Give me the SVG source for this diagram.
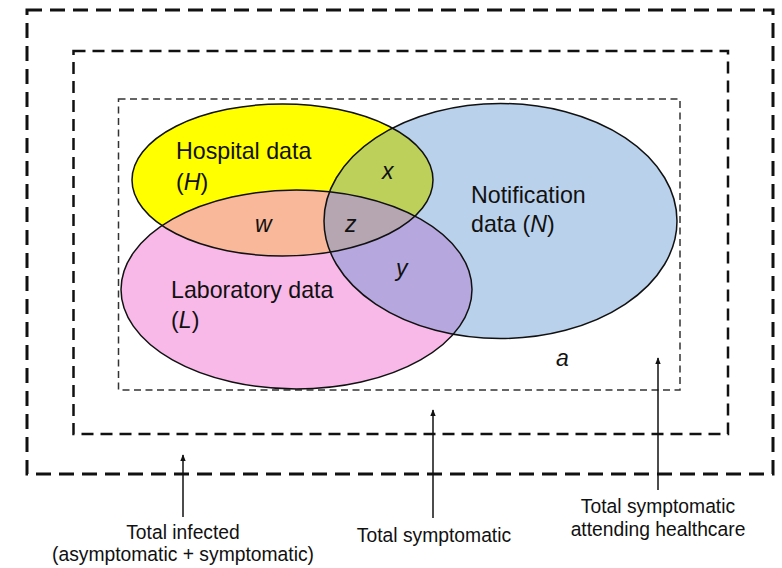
<svg xmlns="http://www.w3.org/2000/svg" width="782" height="568" viewBox="0 0 782 568">
<style>
.lbl{font-family:"Liberation Sans",Arial,sans-serif;fill:#111;font-size:23.2px}
.var{font-family:"Liberation Sans",Arial,sans-serif;fill:#111;font-size:23px;font-style:italic}
.cap{font-family:"Liberation Sans",Arial,sans-serif;fill:#111;font-size:19.3px;text-anchor:middle}
.edge{fill:none;stroke:#111;stroke-width:1.5}
.conn{stroke:#111;stroke-width:1.5;fill:none}
</style>
<defs>
<marker id="ah" viewBox="0 0 10 10" refX="9" refY="5" markerWidth="7" markerHeight="7" orient="auto" markerUnits="userSpaceOnUse">
<path d="M0,1 L10,5 L0,9 z" fill="#111"/>
</marker>
<clipPath id="cH"><ellipse cx="282.5" cy="180" rx="150.5" ry="76"/></clipPath>
<clipPath id="cL"><ellipse cx="296.5" cy="289.5" rx="175.5" ry="99.5"/></clipPath>
<clipPath id="cN"><ellipse cx="500.5" cy="221" rx="176.5" ry="117.5"/></clipPath>
</defs>
<rect width="782" height="568" fill="#fff"/>
<g id="total-infected">
<rect x="27" y="10" width="746" height="464" fill="none" stroke="#111" stroke-width="3" stroke-dasharray="15 8"/>
</g>
<g id="total-symptomatic">
<rect x="73.5" y="51" width="654.5" height="383" fill="none" stroke="#111" stroke-width="2.5" stroke-dasharray="12 7"/>
</g>
<g id="attending-healthcare">
<rect x="118.5" y="99" width="561.5" height="291" fill="none" stroke="#333" stroke-width="1.5" stroke-dasharray="7 4.5"/>
</g>
<g id="notification">
<ellipse cx="500.5" cy="221" rx="176.5" ry="117.5" fill="#bad1ec"/>
</g>
<g id="hospital">
<ellipse cx="282.5" cy="180" rx="150.5" ry="76" fill="#ffff00"/>
</g>
<g id="laboratory">
<ellipse cx="296.5" cy="289.5" rx="175.5" ry="99.5" fill="#f8b9e8"/>
</g>
<g id="overlaps">
<ellipse cx="282.5" cy="180" rx="150.5" ry="76" fill="#bdd05a" clip-path="url(#cN)"/>
<ellipse cx="282.5" cy="180" rx="150.5" ry="76" fill="#f8b899" clip-path="url(#cL)"/>
<ellipse cx="296.5" cy="289.5" rx="175.5" ry="99.5" fill="#b6a8df" clip-path="url(#cN)"/>
<g clip-path="url(#cN)"><ellipse cx="282.5" cy="180" rx="150.5" ry="76" fill="#b5a6b2" clip-path="url(#cL)"/></g>
</g>
<g id="outlines">
<ellipse class="edge" cx="500.5" cy="221" rx="176.5" ry="117.5"/>
<ellipse class="edge" cx="282.5" cy="180" rx="150.5" ry="76"/>
<ellipse class="edge" cx="296.5" cy="289.5" rx="175.5" ry="99.5"/>
</g>
<g id="labels">
<text class="lbl" x="176" y="159">Hospital data</text>
<text class="lbl" x="176" y="190">(<tspan font-style="italic">H</tspan>)</text>
<text class="lbl" x="471" y="203">Notification</text>
<text class="lbl" x="471" y="232">data (<tspan font-style="italic">N</tspan>)</text>
<text class="lbl" x="171" y="298">Laboratory data</text>
<text class="lbl" x="171" y="328">(<tspan font-style="italic">L</tspan>)</text>
<text class="var" x="382" y="179">x</text>
<text class="var" x="255" y="232">w</text>
<text class="var" x="345" y="232">z</text>
<text class="var" x="396" y="276">y</text>
<text class="var" x="556" y="366">a</text>
</g>
<g id="connectors">
<line class="conn" x1="183" y1="517" x2="183" y2="455" marker-end="url(#ah)"/>
<line class="conn" x1="433" y1="518" x2="433" y2="410" marker-end="url(#ah)"/>
<line class="conn" x1="658" y1="490" x2="658" y2="358" marker-end="url(#ah)"/>
</g>
<g id="captions">
<text class="cap" x="183" y="539">Total infected</text>
<text class="cap" x="183" y="561">(asymptomatic + symptomatic)</text>
<text class="cap" x="434" y="542">Total symptomatic</text>
<text class="cap" x="658" y="513">Total symptomatic</text>
<text class="cap" x="658" y="536">attending healthcare</text>
</g>
</svg>
